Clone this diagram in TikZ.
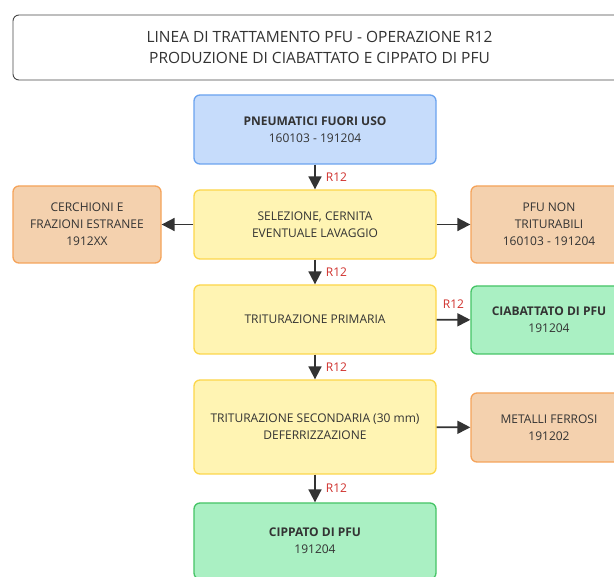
\documentclass[tikz,border=0pt]{standalone}
\usepackage{fontspec}
\setmainfont{Open Sans}
\usetikzlibrary{arrows.meta,positioning}
\definecolor{ink}{HTML}{333333}
\definecolor{codered}{HTML}{D0312D}
\definecolor{bluefill}{HTML}{C6DCFB}
\definecolor{blueline}{HTML}{6AA3EF}
\definecolor{yelfill}{HTML}{FFF4B3}
\definecolor{yelline}{HTML}{FCD64A}
\definecolor{orfill}{HTML}{F4D1AE}
\definecolor{orline}{HTML}{F5A35A}
\definecolor{grfill}{HTML}{AAF0C3}
\definecolor{grline}{HTML}{45C466}
\tikzset{
  box/.style={draw, rounded corners=6pt, line width=1.3pt, align=center,
    inner sep=0pt, text=ink, font=\fontsize{12}{17}\selectfont},
  source/.style={box, fill=bluefill, draw=blueline},
  process/.style={box, fill=yelfill, draw=yelline},
  waste/.style={box, fill=orfill, draw=orline},
  product/.style={box, fill=grfill, draw=grline},
  flow/.style={draw=ink, line width=1.8pt, -{Triangle[length=13pt,width=13pt]}},
  code/.style={text=codered, font=\fontsize{12}{14}\selectfont, inner sep=0pt}
}
\begin{document}
\begin{tikzpicture}[x=1pt,y=-1pt]
\useasboundingbox (0,0) rectangle (614,577);
\clip (0,0) rectangle (614,577);
\fill[white] (0,0) rectangle (614,577);

% title banner
\node[draw=ink!90, line width=0.9pt, rounded corners=6pt, align=center, text=ink,
  minimum width=613pt, minimum height=65pt, inner sep=0pt,
  font=\fontsize{15.5}{21}\selectfont] (title) at (319.5,47.5)
  {LINEA DI TRATTAMENTO PFU - OPERAZIONE R12\\PRODUZIONE DI CIABATTATO E CIPPATO DI PFU};

% main line
\node[source, minimum width=242pt, minimum height=69pt] (pfu) at (315,129.5)
  {\textbf{PNEUMATICI FUORI USO}\\160103 - 191204};
\node[process, minimum width=242pt, minimum height=69pt] (sel) at (315,224.5)
  {SELEZIONE, CERNITA\\EVENTUALE LAVAGGIO};
\node[process, minimum width=242pt, minimum height=69pt] (tp) at (315,319.5)
  {TRITURAZIONE PRIMARIA};
\node[process, minimum width=242pt, minimum height=94pt] (ts) at (315,427)
  {TRITURAZIONE SECONDARIA (30 mm)\\DEFERRIZZAZIONE};
\node[product, minimum width=242pt, minimum height=76pt] (cip) at (315,541)
  {\textbf{CIPPATO DI PFU}\\191204};

% side outputs
\node[waste, minimum width=148pt, minimum height=77pt] (cer) at (87,224.5)
  {CERCHIONI E\\FRAZIONI ESTRANEE\\1912XX};
\node[waste, minimum width=156pt, minimum height=77pt] (nt) at (549,224.5)
  {PFU NON\\TRITURABILI\\160103 - 191204};
\node[product, minimum width=156pt, minimum height=68pt] (cia) at (549,320)
  {\textbf{CIABATTATO DI PFU}\\191204};
\node[waste, minimum width=156pt, minimum height=69pt] (met) at (549,427.5)
  {METALLI FERROSI\\191202};

% connectors
\draw[flow] (pfu) -- node[code, right=10pt] {R12} (sel);
\draw[flow] (sel) -- node[code, right=10pt] {R12} (tp);
\draw[flow] (tp) -- node[code, right=10pt] {R12} (ts);
\draw[flow] (ts) -- node[code, right=10pt] {R12} (cip);
\draw[flow] (sel) -- (cer);
\draw[flow] (sel) -- (nt);
\draw[flow] (tp) -- node[code, above=10pt] {R12} (cia);
\draw[flow] (ts) -- (met);
\end{tikzpicture}
\end{document}
